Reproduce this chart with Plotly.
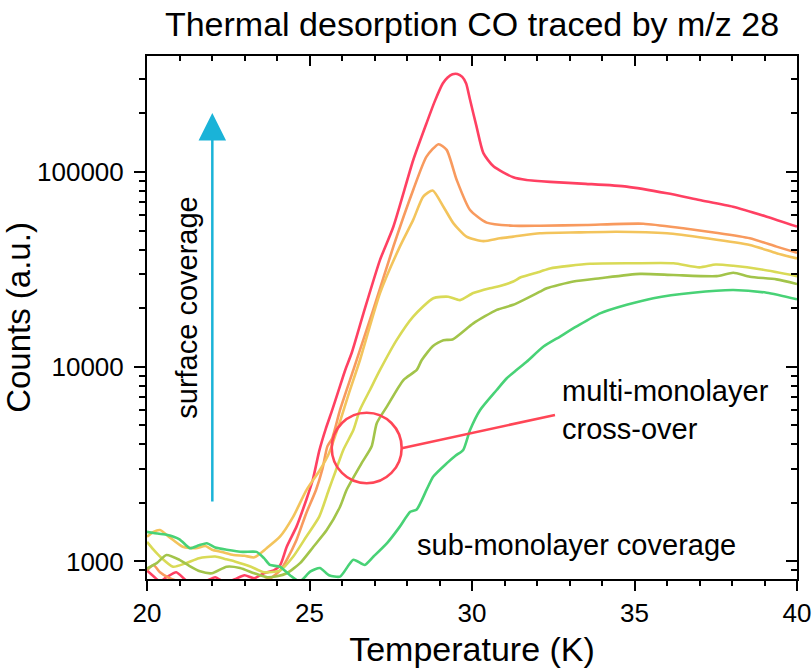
import plotly.graph_objects as go

title_text = "Thermal desorption CO traced by m/z 28"
x_label = "Temperature (K)"
y_label = "Counts (a.u.)"

x_ticks = [20, 25, 30, 35, 40]
x_minor_ticks = list(range(20, 41))
y_ticks = [1000, 10000, 100000]
y_ticktext = ["1000", "10000", "100000"]
y_minor_ticks = [d * 10 ** e for e in (2, 3, 4, 5) for d in range(2, 10)]

# --- series (Temperature K, counts) ---
red_T = [20.0, 20.2, 20.4, 20.6, 20.9, 21.2, 21.5, 21.8, 22.1, 22.4, 22.7, 23.0, 23.3, 23.6, 23.9, 24.1,
         24.3, 24.6, 24.9, 25.1, 25.3, 25.5, 25.7, 25.9, 26.1, 26.3, 26.66, 27.17, 27.58, 28.19, 28.6,
         28.85, 29.1, 29.25, 29.4, 29.55, 29.7, 29.82, 29.94, 30.14, 30.35, 30.66, 31.27, 31.68, 32.4, 33.5, 34.76,
         36.0, 37.0, 38.03, 39.07, 40.0]
red_counts = [900, 840, 790, 830, 880, 800, 760, 790, 830, 780, 810, 850, 820, 870, 900, 960,
              1190, 1510, 2070, 2620, 3700, 4800, 6000, 7600, 9630, 11800, 18800, 35400, 52400, 115000, 178000,
              230000, 285000, 306000, 318000, 319000, 308000, 285000, 235000, 171000, 125000, 107000, 94000, 91000,
              89000, 87000, 84200, 77800, 71900, 66400, 59000, 52500]

orange_T = [20.0, 20.2, 20.4, 20.7, 21.0, 21.4, 21.8, 22.2, 22.6, 23.0, 23.4, 23.8, 24.1, 24.3, 24.6, 24.9,
            25.2, 25.4, 25.55, 25.7, 25.94, 26.35, 26.96, 27.58, 28.19, 28.6, 28.97, 29.22, 29.53, 29.94,
            30.45, 31.27, 32.09, 33.5, 35.27, 36.5, 37.5, 38.55, 39.37, 40.0]
orange_counts = [900, 960, 880, 820, 790, 770, 800, 780, 770, 800, 790, 820, 900, 1020, 1290, 1770,
                 2330, 3000, 3900, 4300, 6000, 9630, 19600, 41400, 80900, 120000, 139000, 130000, 91000, 63800,
                 55000, 53000, 53000, 53500, 54300, 51400, 48800, 45700, 41400, 38500]

lightorange_T = [20.0, 20.2, 20.4, 20.7, 21.1, 21.5, 21.8, 22.0, 22.3, 22.66, 23.0, 23.3, 23.68, 24.09, 24.5,
                 24.91, 25.32, 25.6, 25.9, 26.2, 26.55, 27.17, 27.78, 28.19, 28.5, 28.79, 29.12, 29.43, 29.83,
                 30.35, 30.86, 31.27, 32.09, 33.3, 34.45, 36.0, 37.22, 38.55, 39.37, 40.0]
lightorange_counts = [1340, 1420, 1450, 1330, 1190, 1170, 1200, 1150, 1120, 1080, 1070, 1050, 1170, 1340, 1700,
                      2330, 2950, 3600, 5000, 7200, 10800, 23900, 41400, 56800, 74800, 80400, 66400, 54500, 46600,
                      44200, 45700, 46600, 48500, 49000, 49400, 48500, 45700, 42200, 38300, 36000]

yellow_T = [20.0, 20.2, 20.4, 20.8, 21.2, 21.6, 22.1, 22.4, 22.7, 23.2, 23.6, 24.1, 24.5, 24.9, 25.3, 25.6,
            25.8, 26.04, 26.35, 26.55, 26.86, 27.17, 27.68, 28.19, 28.81, 29.27, 29.63, 30.04, 30.55, 30.86,
            31.27, 31.5, 32.09, 32.4, 33.63, 34.96, 36.2, 37.0, 37.5, 38.04, 38.86, 40.0]
yellow_counts = [1260, 1150, 1060, 940, 980, 1040, 1060, 1030, 1000, 940, 880, 900, 1060, 1340, 1700, 2350,
                 2900, 3740, 4730, 6000, 7600, 9630, 13700, 18100, 22500, 22900, 22000, 23900, 25300, 26000,
                 27400, 28800, 30800, 32000, 33800, 34000, 34000, 32400, 33500, 33000, 31700, 29200]

olive_T = [20.0, 20.3, 20.6, 21.0, 21.3, 21.63, 22.0, 22.45, 22.86, 23.3, 23.7, 24.0, 24.3, 24.71, 25.12,
           25.53, 25.94, 26.14, 26.6, 26.91, 27.07, 27.38, 27.89, 28.3, 28.45, 28.8, 29.12, 29.4, 30.04,
           30.76, 31.27, 32.09, 32.3, 33.12, 33.94, 35.17, 36.2, 37.53, 38.04, 38.55, 39.37, 40.0]
olive_counts = [920, 980, 1080, 1020, 950, 890, 870, 940, 926, 870, 830, 840, 870, 980, 1190,
                1450, 1910, 2330, 3190, 3890, 5130, 6240, 8550, 9630, 10800, 12800, 13700, 13800, 16700,
                19600, 20800, 24300, 25300, 27400, 28500, 30000, 29600, 29200, 30400, 29000, 28100, 26600]

green_T = [20.0, 20.2, 20.6, 21.0, 21.32, 21.6, 21.84, 22.1, 22.45, 22.95, 23.37, 23.6, 23.78, 24.09, 24.4,
           24.7, 25.02, 25.32, 25.6, 25.94, 26.35, 26.7, 26.97, 27.4, 27.78, 28.1, 28.3, 28.6, 28.81, 29.22,
           29.5, 29.73, 29.94, 30.25, 30.76, 31.07, 31.37, 31.68, 32.2, 32.71, 33.22, 33.94, 34.76, 35.58,
           36.8, 38.04, 39.07, 40.0]
green_counts = [1420, 1400, 1370, 1300, 1170, 1210, 1240, 1180, 1150, 1120, 1120, 1040, 960, 940, 850,
                790, 886, 926, 850, 836, 1020, 960, 1060, 1250, 1510, 1800, 1850, 2330, 2730, 3190,
                3500, 3740, 4730, 6000, 7600, 8730, 9630, 10600, 12700, 14300, 16100, 18800, 20800, 22500,
                24000, 24800, 24000, 22200]

series = [
    (red_T, red_counts, "#FF4062"),
    (orange_T, orange_counts, "#F89A5E"),
    (lightorange_T, lightorange_counts, "#F3C45C"),
    (yellow_T, yellow_counts, "#D9DA56"),
    (olive_T, olive_counts, "#A2C44A"),
    (green_T, green_counts, "#48D276"),
]

fig = go.Figure()
for T, c, col in series:
    fig.add_trace(go.Scatter(x=T, y=c, mode="lines",
                             line=dict(color=col, width=2.6, shape="spline", smoothing=0.6),
                             hoverinfo="skip"))

# invisible trace so the mirrored (top/right) tick axes are drawn
fig.add_trace(go.Scatter(x=[30], y=[10000], xaxis="x2", yaxis="y2", mode="markers",
                         marker=dict(opacity=0), hoverinfo="skip"))

FONT = "Liberation Sans"
yr = [2.91, 5.596]

fig.update_layout(
    width=812, height=668,
    margin=dict(l=147, r=15, t=56, b=89, autoexpand=False),
    paper_bgcolor="white", plot_bgcolor="white",
    showlegend=False,
    font=dict(family=FONT, color="black"),
    title=dict(text=title_text, x=0.5, xref="paper", xanchor="center",
               y=1 - 24 / 668, yanchor="middle", font=dict(size=34, family=FONT, color="black")),
    xaxis=dict(range=[20, 40], tickmode="array", tickvals=x_ticks, ticktext=[str(v) for v in x_ticks],
               ticks="outside", ticklen=10, tickwidth=2, tickcolor="black", automargin=False,
               showline=True, linewidth=2, linecolor="black", mirror=True,
               showgrid=False, zeroline=False, tickfont=dict(size=26),
               minor=dict(tickmode="array", tickvals=x_minor_ticks, ticks="outside", ticklen=5,
                          tickwidth=2, tickcolor="black", showgrid=False),
               title=dict(text=x_label, font=dict(size=34), standoff=12)),
    yaxis=dict(type="log", range=yr, tickmode="array", tickvals=y_ticks, ticktext=y_ticktext,
               ticks="outside", ticklen=11, tickwidth=2, tickcolor="black", ticklabelstandoff=5,
               automargin=False,
               showline=True, linewidth=2, linecolor="black", mirror=True,
               showgrid=False, zeroline=False, tickfont=dict(size=26),
               minor=dict(tickmode="array", tickvals=y_minor_ticks, ticks="outside", ticklen=6,
                          tickwidth=2, tickcolor="black", showgrid=False),
               title=dict(text=y_label, font=dict(size=33), standoff=3)),
    xaxis2=dict(range=[20, 40], overlaying="x", side="top", tickmode="array", tickvals=x_ticks,
                ticks="inside", ticklen=10, tickwidth=2, tickcolor="black", automargin=False,
                showticklabels=False, showline=False, showgrid=False, zeroline=False,
                minor=dict(tickmode="array", tickvals=x_minor_ticks, ticks="inside", ticklen=5,
                           tickwidth=2, tickcolor="black", showgrid=False)),
    yaxis2=dict(type="log", range=yr, overlaying="y", side="right", tickmode="array", tickvals=y_ticks,
                ticks="inside", ticklen=11, tickwidth=2, tickcolor="black", automargin=False,
                showticklabels=False, showline=False, showgrid=False, zeroline=False,
                minor=dict(tickmode="array", tickvals=y_minor_ticks, ticks="inside", ticklen=6,
                           tickwidth=2, tickcolor="black", showgrid=False)),
)

# surface coverage arrow
fig.add_annotation(x=0.1005, y=0.891, xref="paper", yref="paper", ax=0, ay=390,
                   showarrow=True, arrowhead=2, arrowsize=2.2, arrowwidth=2.5,
                   arrowcolor="#1AB3D8", text="")
fig.add_annotation(x=0.061, y=0.518, xref="paper", yref="paper", text="surface coverage",
                   textangle=-90, xanchor="center", yanchor="middle", showarrow=False,
                   font=dict(size=29, color="black"))

# cross-over marker
fig.add_shape(type="circle", xref="paper", yref="paper", x0=0.2842, x1=0.3918, y0=0.183, y1=0.318,
              line=dict(color="#FF4656", width=2.6))
fig.add_shape(type="line", xref="paper", yref="paper", x0=0.3918, y0=0.2499, x1=0.6277, y1=0.3136,
              line=dict(color="#FF4656", width=2.6))
fig.add_annotation(x=0.635, y=0.323, xref="paper", yref="paper", text="multi-monolayer<br>cross-over",
                   xanchor="left", yanchor="middle", align="left", showarrow=False,
                   font=dict(size=29, color="black"))
fig.add_annotation(x=0.412, y=0.065, xref="paper", yref="paper", text="sub-monolayer coverage",
                   xanchor="left", yanchor="middle", showarrow=False, font=dict(size=29, color="black"))

fig.write_html("out.html")
